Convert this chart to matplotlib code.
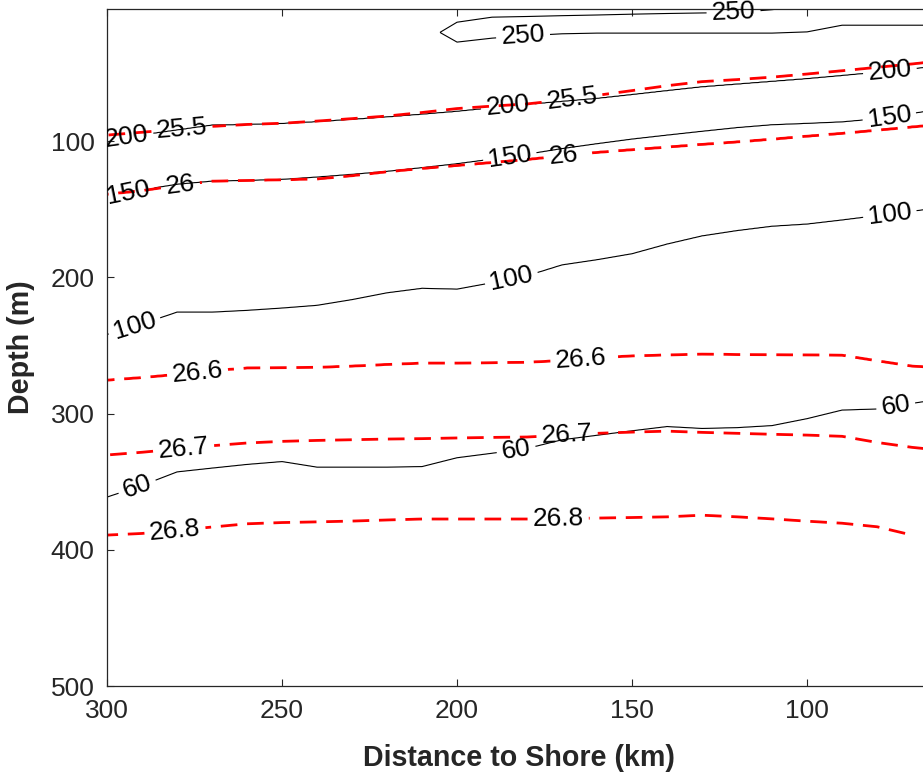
import numpy as np
import matplotlib.pyplot as plt

plt.rcParams['font.family'] = ['Liberation Sans', 'DejaVu Sans']
plt.rcParams['lines.dashed_pattern'] = [6.0, 3.5]

# stations along the section, distance to shore (km)
dist = np.array([300, 290, 280, 270, 260, 250, 240, 230, 220, 210, 200, 190,
                 180, 170, 160, 150, 140, 130, 120, 110, 100, 90, 80, 70, 60])

# seafloor depth (m) under each station
bottom_depth = [600, 600, 600, 600, 600, 600, 600, 600, 600, 600, 600, 600,
                600, 600, 600, 600, 600, 600, 600, 600, 600, 600, 600, 340, 330]

# depth (m) of each oxygen isoline at the stations
ox_levels = [200, 150, 100, 60]
ox_200 = [99.3, 95.5, 91.9, 88.3, 87.8, 87.1, 85.8, 84.1, 82.3, 80.3, 78.2, 75.6,
          73.1, 70.9, 68.7, 65.9, 63.0, 60.2, 58.2, 56.2, 54.2, 51.9, 49.5, 47.0, 44.2]
ox_150 = [141.1, 135.7, 131.6, 129.3, 128.8, 128.0, 126.3, 124.3, 122.1, 119.4, 116.5, 113.1,
          109.5, 105.4, 101.8, 98.4, 95.5, 92.7, 90.0, 87.9, 86.9, 85.8, 83.5, 79.6, 75.8]
ox_100 = [241.9, 234.2, 225.5, 225.5, 224.2, 222.5, 220.5, 216.3, 211.3, 208.0, 208.6, 203.9,
          198.8, 190.8, 187.0, 182.6, 175.5, 169.5, 165.6, 162.4, 160.8, 157.8, 154.6, 151.4, 148.1]
ox_60 = [361.3, 352.7, 342.8, 340.0, 337.3, 335.2, 339.3, 339.3, 339.3, 338.9, 332.4, 329.1,
         325.6, 319.2, 315.9, 312.6, 309.5, 310.9, 310.3, 308.8, 303.7, 297.4, 296.6, 292.5, 288.6]

# upper and lower edge of the 250 oxygen tongue (crossed where it is absent)
tongue_top = [50, 50, 50, 50, 50, 50, 50, 50, 40, 28.0, 12.7, 9.0,
              8.5, 7.9, 7.4, 6.8, 6.3, 5.9, 5.6, 3.5, 0.5, -0.3, -1.6, -2.9, -4.1]
tongue_bot = [-10, -10, -10, -10, -10, -10, -10, -10, 0, 12.8, 27.3, 24.4,
              22.6, 21.2, 20.7, 20.7, 20.7, 20.7, 20.7, 20.7, 19.8, 14.9, 14.9, 14.9, 14.9]

# depth (m) of each potential density isopycnal at the stations
sig_levels = [25.5, 26.0, 26.6, 26.7, 26.8]
sig_255 = [95.6, 93.5, 91.3, 89.2, 87.8, 86.9, 85.3, 83.5, 81.6, 79.0, 76.1, 74.3,
           72.7, 69.9, 66.4, 62.9, 59.3, 56.3, 54.8, 53.0, 50.7, 48.3, 45.8, 43.3, 40.6]
sig_260 = [138.9, 136.3, 132.5, 129.3, 128.8, 128.3, 127.7, 125.3, 122.4, 120.0, 117.8, 115.6,
           113.4, 110.7, 108.2, 106.2, 104.3, 102.3, 100.5, 98.5, 96.3, 94.2, 91.9, 89.5, 87.2]
sig_266 = [275.4, 273.5, 271.2, 268.5, 266.5, 266.2, 266.0, 265.1, 263.9, 262.9, 262.9, 262.6,
           262.3, 261.0, 259.0, 257.6, 256.9, 256.3, 256.6, 256.7, 256.9, 257.1, 261.2, 265.1, 266.6]
sig_267 = [330.4, 328.4, 326.0, 323.6, 321.6, 320.4, 319.7, 319.2, 318.7, 318.4, 317.9, 317.5,
           317.2, 315.9, 314.5, 313.6, 312.9, 313.8, 314.5, 315.2, 315.8, 316.7, 321.2, 324.8, 327.4]
sig_268 = [389.2, 388.0, 385.7, 383.3, 380.9, 380.0, 379.5, 378.9, 378.1, 377.4, 377.4, 377.4,
           377.4, 377.1, 376.7, 376.3, 375.8, 374.6, 375.8, 377.3, 379.0, 380.5, 383.1, 389.2, 391.4]

xg = np.arange(60, 300.01, 0.5)
zg = np.arange(-20, 520.01, 0.5)


def section(levels, isolines, top, bottom):
    # per-column profile: linear in depth between the isoline depths
    cols = []
    for x in xg:
        d = [np.interp(x, dist[::-1], np.asarray(line)[::-1]) for line in isolines]
        cols.append(np.interp(zg, [zg[0]] + d + [zg[-1]], [top] + list(levels) + [bottom]))
    return np.array(cols).T


OX = section(ox_levels, [ox_200, ox_150, ox_100, ox_60], 230, 20)
SG = section(sig_levels, [sig_255, sig_260, sig_266, sig_267, sig_268], 24.5, 27.0)
floor = np.interp(xg, dist[::-1], np.array(bottom_depth)[::-1])
SG = np.ma.masked_where(zg[:, None] > floor[None, :], SG)

up = np.interp(xg, dist[::-1], np.array(tongue_top)[::-1])
lo = np.interp(xg, dist[::-1], np.array(tongue_bot)[::-1])
TG = 250 + np.minimum(zg[:, None] - up[None, :], lo[None, :] - zg[:, None])

fig = plt.figure(figsize=(9.23, 7.72), dpi=100)
ax = fig.add_axes([107 / 923, 86 / 772, 824 / 923, 677 / 772])

cs_ox = ax.contour(xg, zg, OX, levels=ox_levels[::-1], colors='k', linewidths=0.8)
cs_tg = ax.contour(xg, zg, TG, levels=[250], colors='k', linewidths=0.8)
cs_sg = ax.contour(xg, zg, SG, levels=sig_levels, colors='#ff0000', linewidths=2.0,
                   linestyles='dashed')

ax.set_xlim(300, 64.6)
ax.set_ylim(500, 3)
ax.set_xticks([300, 250, 200, 150, 100])
ax.set_yticks([100, 200, 300, 400, 500])
ax.tick_params(direction='in', top=True, right=True, length=5, width=0.8,
               labelsize=19, colors='#262626', pad=9)
for sp in ax.spines.values():
    sp.set_color('#262626')
    sp.set_linewidth(0.9)

ax.set_xlabel('Distance to Shore (km)', fontsize=20.6, fontweight='bold', color='#262626')
ax.set_ylabel('Depth (m)', fontsize=20.6, fontweight='bold', color='#262626')
ax.xaxis.set_label_coords(0.5, -0.085)
ax.yaxis.set_label_coords(-0.087, 0.5)

fmt = lambda v: f'{v:g}'
ax.clabel(cs_ox, fmt=fmt, fontsize=19, colors='k', inline=True,
          manual=[(294.3, 100.7), (185.4, 75.8), (76.3, 51.6),
                  (294.0, 138.2), (184.9, 111.7), (76.3, 84.6),
                  (292.3, 234.3), (184.3, 202.8), (76.3, 155.8),
                  (291.1, 356.1), (183.1, 326.8), (74.6, 296.0)])
tg_labels = ax.clabel(cs_tg, fmt=fmt, fontsize=19, colors='k', inline=True,
                      manual=[(121.0, 6.0), (181.1, 24.4)])
for t in tg_labels:
    t.set_clip_on(False)
ax.clabel(cs_sg, fmt=fmt, fontsize=19, colors='k', inline=True,
          manual=[(278.6, 90.5), (167.1, 69.9), (279.1, 130.8), (169.7, 110.3),
                  (274.0, 272.5), (164.6, 260.7), (278.3, 320.9), (168.6, 313.6),
                  (280.6, 385.5), (171.1, 378.2)])

fig.savefig('out.png', dpi=100)
